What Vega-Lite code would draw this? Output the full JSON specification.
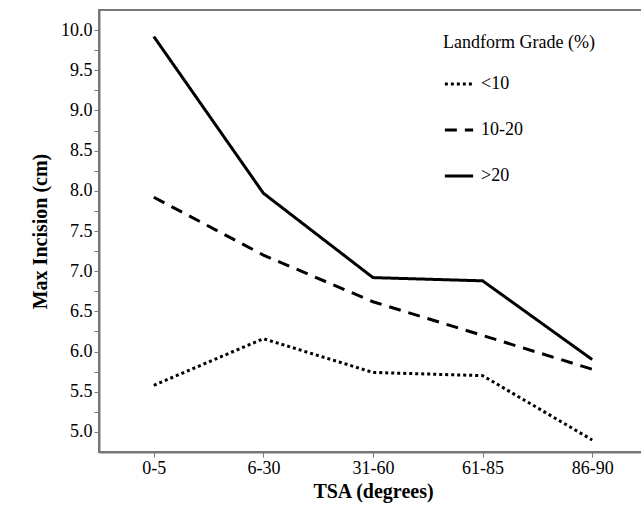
{
  "$schema": "https://vega.github.io/schema/vega-lite/v6.json",
  "autosize": "none",
  "padding": {"left": 99, "top": 10, "right": 0, "bottom": 53},
  "width": 548,
  "height": 442,
  "config": {
    "font": "Liberation Serif",
    "view": {"stroke": "#777", "strokeWidth": 2},
    "legend": {"labelFont": "Liberation Serif", "titleFont": "Liberation Serif"},
    "axis": {"labelFont": "Liberation Serif", "titleFont": "Liberation Serif", "labelFontSize": 18, "titleFontSize": 20, "labelColor": "black", "titleColor": "black", "domainColor": "#777", "domainWidth": 2, "tickColor": "#777", "grid": false}
  },
  "data": {"values": [
    {"tsa": "0-5", "grade": "<10", "v": 5.58},
    {"tsa": "6-30", "grade": "<10", "v": 6.16},
    {"tsa": "31-60", "grade": "<10", "v": 5.74},
    {"tsa": "61-85", "grade": "<10", "v": 5.7},
    {"tsa": "86-90", "grade": "<10", "v": 4.9},
    {"tsa": "0-5", "grade": "10-20", "v": 7.92},
    {"tsa": "6-30", "grade": "10-20", "v": 7.2},
    {"tsa": "31-60", "grade": "10-20", "v": 6.62},
    {"tsa": "61-85", "grade": "10-20", "v": 6.2},
    {"tsa": "86-90", "grade": "10-20", "v": 5.78},
    {"tsa": "0-5", "grade": ">20", "v": 9.92},
    {"tsa": "6-30", "grade": ">20", "v": 7.97},
    {"tsa": "31-60", "grade": ">20", "v": 6.92},
    {"tsa": "61-85", "grade": ">20", "v": 6.88},
    {"tsa": "86-90", "grade": ">20", "v": 5.9}
  ]},
  "mark": {"type": "line", "color": "black", "strokeWidth": 3},
  "encoding": {
    "x": {"field": "tsa", "type": "ordinal", "sort": ["0-5", "6-30", "31-60", "61-85", "86-90"], "scale": {"type": "point", "padding": 0.5}, "axis": {"title": "TSA (degrees)", "labelAngle": 0, "titlePadding": 4, "ticks": true, "tickSize": 5, "labelPadding": 2}},
    "y": {"field": "v", "type": "quantitative", "scale": {"domain": [4.75, 10.25], "nice": false, "zero": false}, "axis": {"title": "Max Incision (cm)", "values": [5, 5.25, 5.5, 5.75, 6, 6.25, 6.5, 6.75, 7, 7.25, 7.5, 7.75, 8, 8.25, 8.5, 8.75, 9, 9.25, 9.5, 9.75, 10], "labelExpr": "datum.value * 2 % 1 == 0 ? format(datum.value, '.1f') : ''", "tickSize": 5, "titlePadding": 10}},
    "strokeDash": {"field": "grade", "type": "nominal", "sort": ["<10", "10-20", ">20"], "scale": {"domain": ["<10", "10-20", ">20"], "range": [[3, 3], [12, 8], [1, 0]]}, "legend": {"orient": "none", "legendX": 344, "legendY": 24, "title": "Landform Grade (%)", "titleFontSize": 18, "titleFontWeight": "normal", "titlePadding": 16, "labelFontSize": 18, "symbolType": "stroke", "symbolStrokeColor": "black", "symbolStrokeWidth": 3, "symbolSize": 800, "rowPadding": 21, "labelOffset": 6}}
  }
}
